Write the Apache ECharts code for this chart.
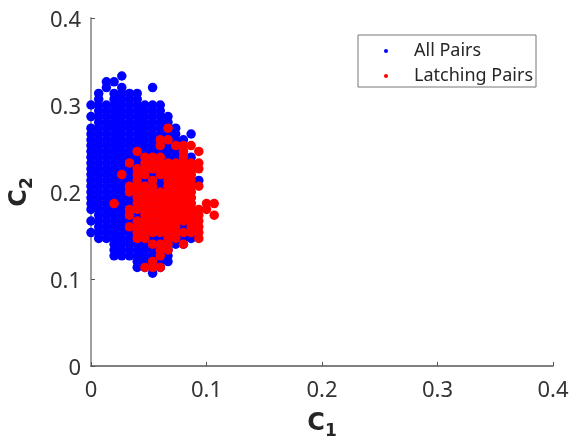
<!DOCTYPE html>
<html><head><meta charset="utf-8">
<style>html,body{margin:0;padding:0;background:#fff}#c{width:569px;height:439px}</style>
<script src="https://cdn.jsdelivr.net/npm/echarts@6/dist/echarts.min.js"></script>
</head><body><div id="c"></div>
<script>
// c2 values per c1 column, in lattice steps of 1/150
const latticeStep = 1 / 150;
const allCol0 = [45,43,41,40,39,38,37,36,35,34,33,32,31,30,29,28,27,25,23];
const allCol1 = [47,46,45,44,43,42,41,40,39,38,37,36,35,34,33,32,31,30,29,28,27,26,25,24,23,22];
const allCol2 = [49,48,45,44,43,42,41,40,39,38,37,36,35,34,33,32,31,30,29,28,27,26,25,24,23,22];
const allCol3 = [49,47,46,45,44,43,42,41,40,39,38,37,36,35,34,33,32,31,30,29,28,27,26,25,24,23,22,21,20,19];
const allCol4 = [50,48,47,46,45,44,43,42,41,40,39,38,37,36,35,34,33,32,31,30,29,28,27,26,25,24,23,22,21,20,19];
const allCol5 = [47,46,45,44,43,42,41,40,39,38,37,36,35,34,33,32,31,30,29,28,27,26,25,24,23,22,21,20,19];
const allCol6 = [47,46,45,44,43,42,41,40,39,38,37,36,35,34,33,32,31,30,29,28,27,26,25,24,23,22,21,20,19,18,17];
const allCol7 = [45,44,43,42,41,40,39,38,37,36,35,34,33,32,31,30,29,28,27,26,25,24,23,22,21,20,19,18,17];
const allCol8 = [48,45,44,43,42,41,40,39,38,37,36,35,34,33,32,31,30,29,28,27,26,25,24,23,22,21,20,19,18,17,16];
const allCol9 = [45,44,43,42,41,40,39,38,37,36,35,34,33,32,31,30,29,28,27,26,25,24,23,22,21,20,19,18,17];
const allCol10 = [43,42,41,40,39,38,37,36,35,34,33,32,31,30,29,28,27,26,25,24,23,22,21,20,19,18];
const allCol11 = [41,40,39,38,37,36,35,34,33,32,31,30,29,28,27,26,25,24,23,22,21];
const allCol12 = [39,38,37,36,35,34,33,32,31,30,29,28,27,26,25,24,23,22,21];
const allCol13 = [40,36,35,34,33,32,31,30,29,28,27,26,25,24,23,22];
const allCol14 = [32];
const allPairsColumns = [allCol0,allCol1,allCol2,allCol3,allCol4,allCol5,allCol6,allCol7,allCol8,allCol9,allCol10,allCol11,allCol12,allCol13,allCol14];

const latchCol3 = [28];
const latchCol4 = [33];
const latchCol5 = [35,31,30,27,26,24];
const latchCol6 = [37,34,33,32,31,30,29,28,27,25,24,23,22];
const latchCol7 = [36,35,34,33,31,30,29,28,27,26,25,24,23,22,17];
const latchCol8 = [36,35,34,32,31,30,29,28,27,26,25,24,23,21,18,17];
const latchCol9 = [39,38,36,35,34,33,30,29,28,27,26,25,24,23,21,20,19,17];
const latchCol10 = [41,39,35,34,33,32,31,30,29,28,27,26,25,24,23,22,21,20];
const latchCol11 = [38,35,34,33,32,31,30,29,28,27,26,25,24,23,22];
const latchCol12 = [38,37,36,35,34,33,32,31,30,29,28,27,26,25,23,21];
const latchCol13 = [38,35,34,33,32,31,30,29,28,27,26,25,24,23];
const latchCol14 = [37,35,34,31,27,26,25,24,23,22];
const latchCol15 = [28,27];
const latchCol16 = [28,26];
const latchingColumns = [[],[],[],latchCol3,latchCol4,latchCol5,latchCol6,latchCol7,latchCol8,latchCol9,latchCol10,latchCol11,latchCol12,latchCol13,latchCol14,latchCol15,latchCol16];

const seriesNames = ['All Pairs','Latching Pairs'];
const tickValues = [0,0.1,0.2,0.3,0.4];

const toPoints = cols => cols.flatMap((col,i) => col.map(j => [i*latticeStep, j*latticeStep]));
const font = '"Noto Sans"';
const boldFont = '"DejaVu Sans"';
const nameRich = {
  b:{fontFamily:boldFont,fontWeight:'bold',fontSize:24,color:'#262626'},
  s:{fontFamily:boldFont,fontWeight:'bold',fontSize:17,color:'#262626',padding:[16,0,0,0]}
};
const axisCommon = {
  type:'value',min:0,max:0.4,interval:0.1,splitLine:{show:false},
  axisTick:{show:true,inside:true,length:4,lineStyle:{color:'#555',width:1}},
  axisLabel:{fontFamily:font,fontSize:22,color:'#333',formatter:v=>String(tickValues[Math.round(v*10)])},
  nameLocation:'middle',nameTextStyle:{rich:nameRich}
};
const chart = echarts.init(document.getElementById('c'),null,{renderer:'canvas'});
chart.setOption({
  animation:false,
  backgroundColor:'#fff',
  grid:{left:91,right:16,top:18,bottom:73,containLabel:false,outerBoundsMode:'none'},
  graphic:[{type:'rect',z:0,silent:true,shape:{x:358,y:35,width:178,height:52},
    style:{fill:'#fff',stroke:'#777',lineWidth:1}}],
  xAxis:Object.assign({},axisCommon,{name:'{b|C}{s|1}',nameGap:41,
    axisLine:{show:true,lineStyle:{color:'#555',width:1.5}},
    axisLabel:Object.assign({},axisCommon.axisLabel,{margin:14})}),
  yAxis:Object.assign({},axisCommon,{name:'{b|C}{s|2}',nameGap:55,
    axisLine:{show:true,lineStyle:{color:'#a0a0a0',width:2}},
    axisLabel:Object.assign({},axisCommon.axisLabel,{margin:10,verticalAlign:'top',lineHeight:5})}),
  legend:{
    left:384,top:39,orient:'vertical',padding:0,itemGap:1,
    itemWidth:4,itemHeight:4,icon:'circle',
    textStyle:{fontFamily:font,fontSize:18,color:'#262626',padding:[0,0,0,21],lineHeight:24},
    data:seriesNames
  },
  series:[
    {name:seriesNames[0],type:'scatter',symbolSize:9.5,itemStyle:{color:'#0000ff',opacity:1},data:toPoints(allPairsColumns),z:2},
    {name:seriesNames[1],type:'scatter',symbolSize:9.5,itemStyle:{color:'#ff0000',opacity:1},data:toPoints(latchingColumns),z:3}
  ]
});
</script></body></html>
